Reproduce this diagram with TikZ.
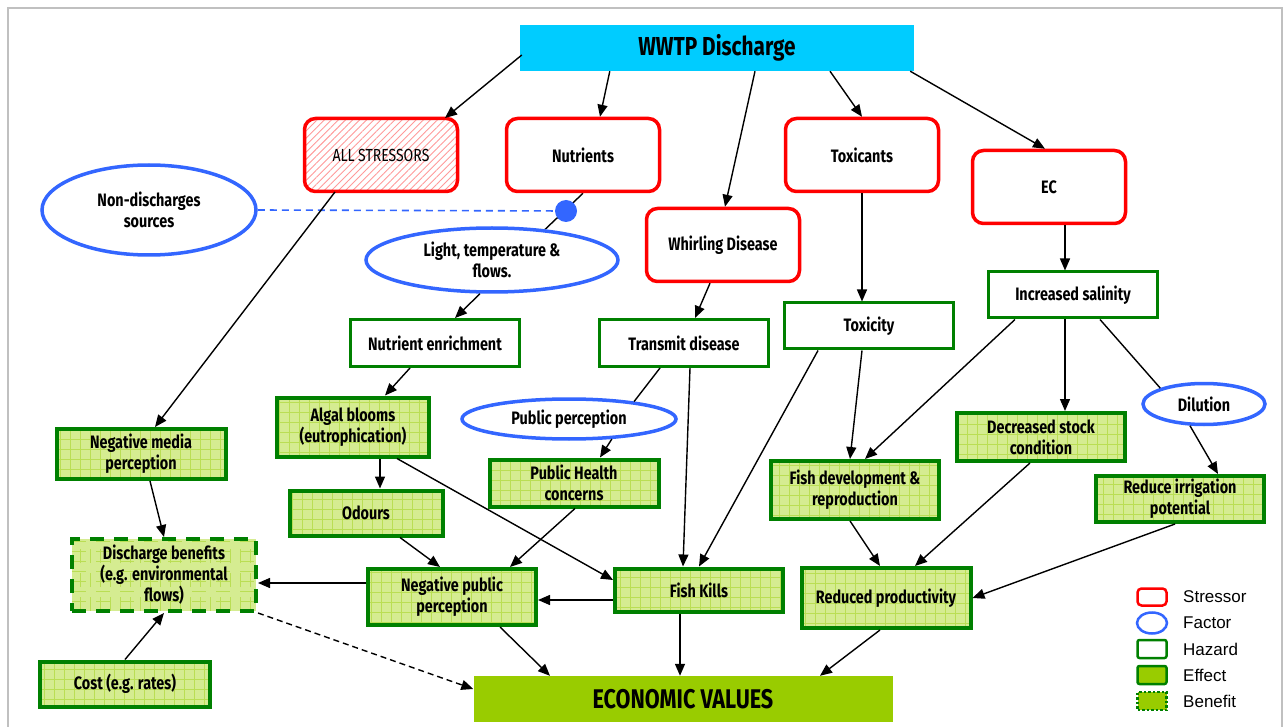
\documentclass[tikz,border=0pt]{standalone}
\usepackage{fontspec}
\setmainfont{Liberation Sans}
\newfontfamily\lab{Fira Sans}[FakeStretch=0.8]
\usetikzlibrary{patterns.meta,arrows.meta,shapes.geometric,calc,backgrounds}

\definecolor{wwtpcyan}{RGB}{0,204,255}
\definecolor{strred}{RGB}{255,0,0}
\definecolor{facblue}{RGB}{51,102,255}
\definecolor{hazgreen}{RGB}{0,128,0}
\definecolor{efffill}{RGB}{213,236,145}
\definecolor{effgrid}{RGB}{186,222,84}
\definecolor{econgreen}{RGB}{153,204,0}
\definecolor{framegray}{RGB}{192,192,192}

\tikzset{
  lbl/.style={font=\lab\bfseries\fontsize{18}{21}\selectfont, align=center, text=black, inner sep=0pt},
  stressor/.style={lbl, draw=strred, line width=3.5pt, rounded corners=11pt, fill=white,
    minimum width=153pt, minimum height=73pt},
  factor/.style={lbl, ellipse, draw=facblue, line width=3.5pt, fill=white},
  hazard/.style={lbl, draw=hazgreen, line width=3pt, fill=white, minimum width=169pt},
  effect/.style={lbl, draw=hazgreen, line width=4pt, fill=efffill,
    path picture={\draw[effgrid, line width=0.8pt, step=10pt]
      (path picture bounding box.south west) grid (path picture bounding box.north east);}},
  benefit/.style={effect, dash pattern=on 14pt off 10pt},
  arr/.style={-{Triangle[length=12pt,width=10pt]}, line width=1.4pt, black},
  legtxt/.style={anchor=west, font=\fontsize{17}{19}\selectfont, inner sep=0pt},
}

\begin{document}
\begin{tikzpicture}[x=1pt, y=-1pt]
\useasboundingbox (0,0) rectangle (1288,727);

% outer frame
\draw[framegray, line width=2.5pt] (8,727) -- (8,8) -- (1282,8) -- (1282,727);

% top source
\node[lbl, fill=wwtpcyan, minimum width=394pt, minimum height=46pt,
      font=\lab\bfseries\fontsize{26}{28}\selectfont] (wwtp) at (717,48) {WWTP Discharge};

% stressors
\node[stressor, pattern={Lines[angle=45,distance=5pt,line width=0.9pt]}, pattern color=strred!40,
      font=\lab\fontsize{17.5}{19}\selectfont] (allstr) at (381,155) {ALL STRESSORS};
\node[stressor] (nutr) at (583,155) {Nutrients};
\node[stressor] (toxi) at (862,155) {Toxicants};
\node[stressor] (ec) at (1049,187) {EC};
\node[stressor] (whirl) at (723,245) {Whirling Disease};

% factors
\node[factor, minimum width=214pt, minimum height=90pt] (nonds) at (149,210) {Non-discharges\\sources};
\node[factor, minimum width=252pt, minimum height=64pt] (light) at (492,260) {Light, temperature \&\\flows.};
\node[circle, fill=facblue, minimum size=22pt, inner sep=0pt] (dot) at (566,211) {};
\node[factor, minimum width=214pt, minimum height=40pt] (pubp) at (569,419) {Public perception};
\node[factor, minimum width=122pt, minimum height=41pt] (dilution) at (1204,404) {Dilution};

% hazards
\node[hazard, minimum height=47pt] (nenr) at (435,343) {Nutrient enrichment};
\node[hazard, minimum height=47pt] (trans) at (684,343) {Transmit disease};
\node[hazard, minimum height=46pt] (toxy) at (869,326) {Toxicity};
\node[hazard, minimum height=46pt] (salin) at (1073,295) {Increased salinity};

% effects
\node[effect, minimum width=152pt, minimum height=59pt] (algal) at (353,427) {Algal blooms\\(eutrophication)};
\node[effect, minimum width=169pt, minimum height=50pt] (negmed) at (141,454) {Negative media\\perception};
\node[effect, minimum width=169pt, minimum height=47pt] (pubh) at (574,483) {Public Health\\concerns};
\node[effect, minimum width=153pt, minimum height=45pt] (odours) at (366,513) {Odours};
\node[effect, minimum width=168pt, minimum height=58pt] (fishdev) at (855,490) {Fish development \&\\reproduction};
\node[effect, minimum width=168pt, minimum height=48pt] (decstock) at (1041,437) {Decreased stock\\condition};
\node[effect, minimum width=168pt, minimum height=46pt] (reduceirr) at (1180,499) {Reduce irrigation\\potential};
\node[effect, minimum width=168pt, minimum height=56pt] (negpub) at (452,597) {Negative public\\perception};
\node[effect, minimum width=168pt, minimum height=43pt] (fishk) at (699,590) {Fish Kills};
\node[effect, minimum width=169pt, minimum height=60pt] (redprod) at (886,598) {Reduced productivity};
\node[effect, minimum width=170pt, minimum height=45pt] (cost) at (125,684) {Cost (e.g. rates)};

% benefit
\node[benefit, minimum width=184pt, minimum height=72pt] (discb) at (164,575) {Discharge benefits\\(e.g. environmental\\flows)};

% final value
\node[lbl, fill=econgreen, minimum width=419pt, minimum height=46pt,
      font=\lab\bfseries\fontsize{27}{29}\selectfont] (econ) at (683,699) {ECONOMIC VALUES};

% links meeting at the factor dot
\begin{scope}[on background layer]
  \draw[line width=1.4pt] (nutr.south) -- (light.30);
  \draw[facblue, line width=1.6pt, dash pattern=on 7pt off 5pt] (nonds.east) -- (dot.center);
\end{scope}

% connectors
\draw[arr] ($(wwtp.west)+(2,7)$) -- ($(allstr.north)+(64,0)$);
\draw[arr] ($(wwtp.south west)+(90,0)$) -- ($(nutr.north)+(17,0)$);
\draw[arr] ($(wwtp.south)+(38,0)$) -- ($(whirl.north)+(2,0)$);
\draw[arr] ($(wwtp.south)+(113,0)$) -- (toxi.north);
\draw[arr] ($(wwtp.south east)+(-4,0)$) -- ($(ec.north)+(-4,0)$);
\draw[arr] ($(allstr.south)+(-46,0)$) -- ($(negmed.north)+(14,0)$);
\draw[arr] ($(light.south)+(-12,0)$) -- ($(nenr.north)+(20,0)$);
\draw[arr] ($(whirl.south)+(-13,0)$) -- ($(trans.north)+(11,0)$);
\draw[arr] (toxi.south) -- ($(toxy.north)+(-7,0)$);
\draw[arr] ($(ec.south)+(16,0)$) -- ($(salin.north)+(-8,0)$);
\draw[arr] ($(nenr.south)+(-25,0)$) -- ($(algal.north)+(32,0)$);
\draw[line width=1.4pt] ($(trans.south)+(-24,0)$) -- (pubp.15);
\draw[arr] (pubp.-25) -- ($(pubh.north)+(26,0)$);
\draw[arr] ($(trans.south)+(6,0)$) -- ($(fishk.north)+(-16,0)$);
\draw[arr] ($(toxy.south)+(-51,0)$) -- (fishk.north);
\draw[arr] ($(toxy.south)+(-7,0)$) -- ($(fishdev.north)+(-5,0)$);
\draw[arr] ($(salin.south)+(-58,0)$) -- ($(fishdev.north)+(10,0)$);
\draw[arr] ($(salin.south)+(-8,0)$) -- ($(decstock.north)+(24,0)$);
\draw[line width=1.4pt] ($(salin.south)+(27,0)$) -- (dilution.160);
\draw[arr] (dilution.-123) -- ($(reduceirr.north)+(38,0)$);
\draw[arr] ($(algal.south)+(27,0)$) -- ($(odours.north)+(14,0)$);
\draw[arr] ($(algal.south)+(44,0)$) -- ($(fishk.west)+(0,-10)$);
\draw[arr] ($(odours.south)+(34,0)$) -- ($(negpub.north)+(-12,0)$);
\draw[arr] ($(pubh.south)+(1,0)$) -- ($(negpub.north)+(58,0)$);
\draw[arr] ($(fishk.west)+(0,10)$) -- ($(negpub.east)+(0,3)$);
\draw[arr] ($(negmed.south)+(9,0)$) -- (discb.north);
\draw[arr] ($(negpub.west)+(0,-14)$) -- ($(discb.east)+(0,8)$);
\draw[arr] (cost.north) -- (discb.south);
\draw[arr, dash pattern=on 6pt off 4pt] (discb.south east) -- ($(econ.west)+(0,-10)$);
\draw[arr] ($(negpub.south)+(48,0)$) -- ($(econ.north)+(-133,0)$);
\draw[arr] ($(fishk.south)+(-19,0)$) -- ($(econ.north)+(-3,0)$);
\draw[arr] ($(redprod.south)+(-6,0)$) -- ($(econ.north)+(137,0)$);
\draw[arr] ($(fishdev.south)+(-5,0)$) -- ($(redprod.north)+(-6,0)$);
\draw[arr] ($(decstock.south)+(-11,0)$) -- ($(redprod.north)+(29,0)$);
\draw[arr] ($(reduceirr.south)+(-5,0)$) -- (redprod.east);

% legend
\node[draw=strred, line width=2.5pt, rounded corners=4pt, minimum width=29pt, minimum height=17pt, inner sep=0pt] (lgs) at (1152,597) {};
\node[draw=facblue, line width=2.5pt, ellipse, minimum width=30pt, minimum height=21pt, inner sep=0pt] (lgf) at (1152,623) {};
\node[draw=hazgreen, line width=2.5pt, rounded corners=2pt, minimum width=29pt, minimum height=18pt, inner sep=0pt] (lgh) at (1152,649) {};
\node[draw=hazgreen, fill=econgreen, line width=2.5pt, rounded corners=2pt, minimum width=29pt, minimum height=18pt, inner sep=0pt] (lge) at (1152,675) {};
\node[draw=hazgreen, fill=econgreen, line width=2.5pt, dotted, minimum width=29pt, minimum height=18pt, inner sep=0pt] (lgb) at (1152,701) {};
\node[legtxt] (lgst) at (1183,597) {Stressor};
\node[legtxt] (lgft) at (1183,623) {Factor};
\node[legtxt] (lght) at (1183,649) {Hazard};
\node[legtxt] (lget) at (1183,675) {Effect};
\node[legtxt] (lgbt) at (1183,701) {Benefit};
\end{tikzpicture}
\end{document}
